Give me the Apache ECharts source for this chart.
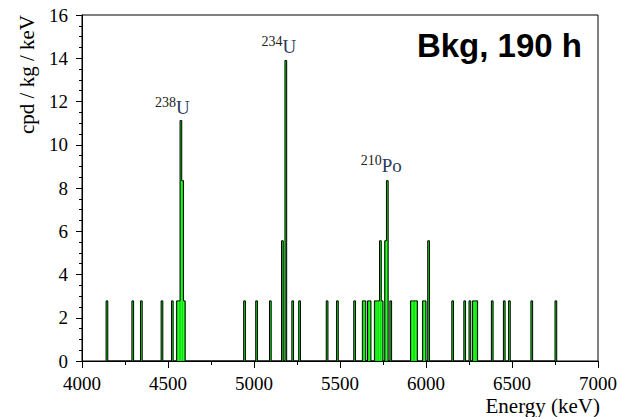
<!DOCTYPE html>
<html>
<head>
<meta charset="utf-8">
<script src="https://cdn.jsdelivr.net/npm/echarts@6/dist/echarts.min.js"></script>
<style>
html,body{margin:0;padding:0;background:#fff;}
#chart{width:620px;height:417px;}
</style>
</head>
<body>
<div id="chart"></div>
<script>
// Histogram bins (keV, lower edge) and rates (cpd/kg/keV)
const binWidth = 10;
const binStart = [4140,4290,4340,4460,4520,4550,4560,4570,4580,4590,
  4940,5010,5090,5160,5180,5220,5260,5420,5480,5580,
  5630,5640,5660,5670,5700,5710,5720,5730,5740,5760,5770,5790,
  5910,5920,5930,5940,5980,5990,6010,
  6150,6220,6250,6270,6280,6290,6380,6450,6480,6610,6750];
const binRate = [2.78,2.78,2.78,2.78,2.78,2.78,2.78,11.12,8.34,2.78,
  2.78,2.78,2.78,5.56,13.9,2.78,2.78,2.78,2.78,2.78,
  2.78,2.78,2.78,2.78,2.78,2.78,2.78,5.56,2.78,5.56,8.34,2.78,
  2.78,2.78,2.78,2.78,2.78,2.78,5.56,
  2.78,2.78,2.78,2.78,2.78,2.78,2.78,2.78,2.78,2.78,2.78];

// Peak annotations
const peakMass = ['238','234','210'];
const peakElem = ['U','U','Po'];
const peakEnergy = [4546,5165,5743];
const peakLevel = [11.28,14.1,8.6];

const xTicks = [4000,4500,5000,5500,6000,6500,7000];
const yTicks = [0,2,4,6,8,10,12,14,16];

const serif = "'Liberation Serif','Times New Roman',serif";

// bars table
const bars = binStart.map((s,i)=>[s, s+binWidth, binRate[i]]);
// step outline (ROOT style)
const outline = [];
for (let i=0;i<binStart.length;i++){
  const s = binStart[i], e = s+binWidth, h = binRate[i];
  const prevContig = i>0 && binStart[i-1]+binWidth===s;
  const nextContig = i<binStart.length-1 && binStart[i+1]===e;
  if(!prevContig) outline.push([s,0]);
  outline.push([s,h]);
  outline.push([e,h]);
  if(!nextContig) outline.push([e,0]);
}
const peaks = peakEnergy.map((e,i)=>[e, peakLevel[i], peakMass[i], peakElem[i]]);

const chart = echarts.init(document.getElementById('chart'), null, {renderer:'svg'});
chart.setOption({
  animation:false,
  backgroundColor:'#fff',
  grid:{left:82, top:15, right:20, bottom:56, show:true, borderColor:'#000', borderWidth:1, backgroundColor:'transparent'},
  xAxis:{
    type:'value', min:xTicks[0], max:xTicks[xTicks.length-1], interval:500,
    axisLine:{show:true, lineStyle:{color:'#000', width:1}},
    axisTick:{show:true, length:7, lineStyle:{color:'#000'}},
    minorTick:{show:true, splitNumber:2, length:4, lineStyle:{color:'#000'}},
    splitLine:{show:false},
    axisLabel:{color:'#000', fontFamily:serif, fontSize:19, margin:13, formatter:function(v){return String(v);}}
  },
  yAxis:{
    type:'value', min:yTicks[0], max:yTicks[yTicks.length-1], interval:2,
    axisLine:{show:true, lineStyle:{color:'#000', width:1}},
    axisTick:{show:true, length:6, lineStyle:{color:'#000'}},
    minorTick:{show:true, splitNumber:4, length:3, lineStyle:{color:'#000'}},
    splitLine:{show:false},
    axisLabel:{color:'#000', fontFamily:serif, fontSize:19, margin:14, formatter:function(v){return String(v);}}
  },
  series:[
    {
      type:'custom', data:bars, z:2,
      renderItem:function(params, api){
        const p0 = api.coord([api.value(0), api.value(2)]);
        const p1 = api.coord([api.value(1), 0]);
        return {type:'rect', shape:{x:p0[0], y:p0[1], width:p1[0]-p0[0], height:p1[1]-p0[1]}, style:{fill:'#00ee00'}};
      }
    },
    {
      type:'line', data:outline, z:3, symbol:'none', showSymbol:false,
      lineStyle:{color:'#000', width:1}, silent:true
    },
    {
      type:'custom', data:peaks, z:4,
      renderItem:function(params, api){
        const p = api.coord([api.value(0), api.value(1)]);
        const d = peaks[params.dataIndex];
        return {type:'group', children:[
          {type:'text', x:p[0], y:p[1]-8, style:{text:d[2], font:"14px 'Liberation Serif',serif", fill:'#222', align:'right', verticalAlign:'bottom'}},
          {type:'text', x:p[0], y:p[1], style:{text:d[3], font:"19px 'Liberation Serif',serif", fill:'#2b3a5c', align:'left', verticalAlign:'bottom'}}
        ]};
      }
    }
  ],
  graphic:[
    {type:'text', right:38, top:29, style:{text:'Bkg, 190 h', font:"bold 33px 'Liberation Sans',Arial,sans-serif", fill:'#000'}},
    {type:'text', x:27, y:15, rotation:Math.PI/2, style:{text:'cpd / kg / keV', font:"21px 'Liberation Serif',serif", fill:'#000', align:'right', verticalAlign:'middle'}},
    {type:'text', x:600, y:406, style:{text:'Energy (keV)', font:"21px 'Liberation Serif',serif", fill:'#000', align:'right', verticalAlign:'middle'}}
  ]
});
</script>
</body>
</html>
